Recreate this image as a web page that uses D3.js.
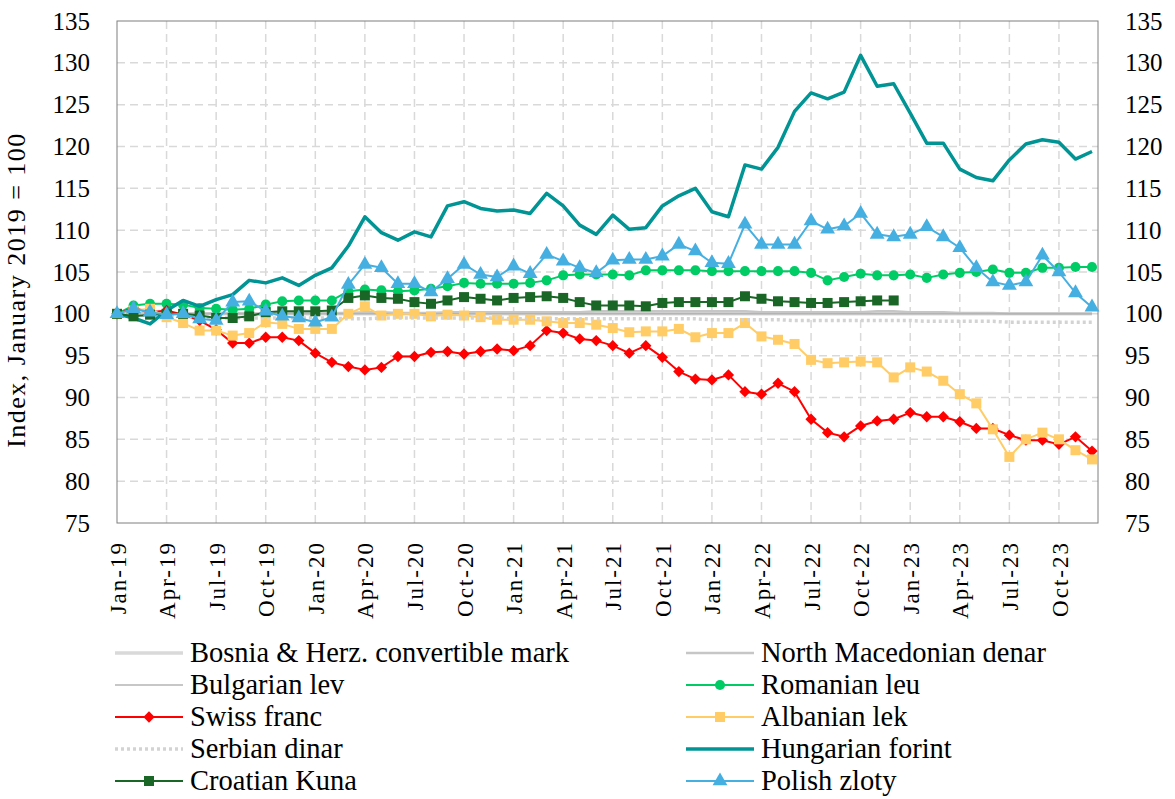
<!DOCTYPE html>
<html>
<head>
<meta charset="utf-8">
<script src="https://cdn.jsdelivr.net/npm/d3@7"></script>
<style>
   body { margin: 0; background: #fff; }
   text { font-family: "Liberation Serif", "DejaVu Serif", serif; fill: #000; }
</style>
</head>
<body>
<div class="chart"></div>
<script>

// months Jan-19 .. Dec-23
const months = ['Jan-19','Feb-19','Mar-19','Apr-19','May-19','Jun-19','Jul-19','Aug-19','Sep-19','Oct-19','Nov-19','Dec-19',
   'Jan-20','Feb-20','Mar-20','Apr-20','May-20','Jun-20','Jul-20','Aug-20','Sep-20','Oct-20','Nov-20','Dec-20',
   'Jan-21','Feb-21','Mar-21','Apr-21','May-21','Jun-21','Jul-21','Aug-21','Sep-21','Oct-21','Nov-21','Dec-21',
   'Jan-22','Feb-22','Mar-22','Apr-22','May-22','Jun-22','Jul-22','Aug-22','Sep-22','Oct-22','Nov-22','Dec-22',
   'Jan-23','Feb-23','Mar-23','Apr-23','May-23','Jun-23','Jul-23','Aug-23','Sep-23','Oct-23','Nov-23','Dec-23'];

const yTicks = [75, 80, 85, 90, 95, 100, 105, 110, 115, 120, 125, 130, 135];

const bosnia = [100,100,100,100,100,100,100,100,100,100,100,100,
   100,100,100,100,100,100,100,100,100,100,100,100,
   100,100,100,100,100,100,100,100,100,100,100,100,
   100,100,100,100,100,100,100,100,100,100,100,100,
   100,100,100,100,100,100,100,100,100,100,100,100];

const macedonia = [100,100.1,100.1,100,100,100,100.1,100.1,100,100,100.1,100.1,
   100.1,100.1,100.1,100.2,100.2,100.1,100.1,100.1,100.2,100.2,100.2,100.2,
   100.2,100.2,100.2,100.2,100.2,100.3,100.3,100.3,100.3,100.3,100.3,100.3,
   100.3,100.3,100.3,100.2,100.2,100.2,100.2,100.2,100.2,100.2,100.3,100.3,
   100.2,100.2,100.2,100.1,100.1,100.1,100,100,100,100,100,100];

const bulgaria = [100,100,100,100,100,100,100,100,100,100,100,100,
   100,100,100,100,100,100,100,100,100,100,100,100,
   100,100,100,100,100,100,100,100,100,100,100,100,
   100,100,100,100,100,100,100,100,100,100,100,100,
   100,100,100,100,100,100,100,100,100,100,100,100];

const romania = [100,101.0,101.2,101.2,101.1,100.7,100.6,100.5,100.6,101.1,101.5,101.6,
   101.6,101.6,102.7,102.9,102.8,102.7,102.8,103.0,103.3,103.7,103.6,103.6,
   103.6,103.7,104.0,104.6,104.7,104.7,104.7,104.6,105.2,105.2,105.2,105.2,
   105.1,105.1,105.1,105.1,105.1,105.1,104.9,104.0,104.4,104.8,104.6,104.6,
   104.7,104.3,104.7,104.9,105.0,105.3,104.9,104.9,105.5,105.5,105.6,105.6];

const swiss = [100,100.7,100.2,100.4,99.9,99.2,98.1,96.5,96.5,97.2,97.2,96.8,
   95.3,94.2,93.7,93.3,93.6,94.9,94.9,95.4,95.5,95.2,95.5,95.8,
   95.6,96.2,98.0,97.7,97.0,96.8,96.2,95.3,96.2,94.8,93.1,92.2,
   92.1,92.7,90.7,90.4,91.7,90.7,87.4,85.8,85.3,86.6,87.2,87.4,
   88.2,87.7,87.7,87.1,86.3,86.3,85.5,84.9,84.9,84.4,85.3,83.6];

const albania = [100,100.4,100.6,99.6,98.9,98.0,98.0,97.4,97.7,99.0,98.8,98.2,
   98.2,98.2,100.0,100.9,99.8,100.0,100.0,99.7,99.9,99.8,99.6,99.3,
   99.3,99.3,99.1,98.9,98.9,98.7,98.3,97.8,97.9,97.9,98.2,97.2,
   97.7,97.7,98.9,97.3,96.9,96.4,94.5,94.1,94.2,94.3,94.2,92.4,
   93.6,93.1,92.0,90.4,89.3,86.2,82.9,85.0,85.8,85.0,83.7,82.6];

const serbia = [100,99.9,99.8,99.8,99.7,99.6,99.5,99.5,99.5,99.5,99.5,99.5,
   99.5,99.5,99.4,99.4,99.5,99.5,99.5,99.5,99.5,99.5,99.5,99.5,
   99.4,99.4,99.4,99.4,99.4,99.4,99.4,99.4,99.4,99.4,99.4,99.4,
   99.3,99.3,99.3,99.3,99.3,99.2,99.2,99.2,99.2,99.2,99.2,99.2,
   99.2,99.1,99.1,99.1,99.1,99.1,99.0,99.0,99.0,99.0,99.0,99.0];

const hungary = [100,99.5,98.8,100.4,101.6,100.9,101.7,102.3,104.0,103.7,104.3,103.4,
   104.6,105.5,108.1,111.6,109.7,108.8,109.8,109.2,112.9,113.4,112.6,112.3,
   112.4,112.0,114.4,112.9,110.6,109.5,111.8,110.1,110.3,112.9,114.1,115.0,
   112.2,111.6,117.8,117.3,119.9,124.2,126.4,125.7,126.5,130.9,127.2,127.5,
   124.0,120.4,120.4,117.3,116.3,115.9,118.4,120.3,120.8,120.5,118.5,119.4];

// kuna stops at Dec-22
const croatia = [100,99.7,99.9,100.0,100.0,99.8,99.5,99.5,99.7,100.2,100.3,100.3,
   100.3,100.4,101.9,102.2,101.9,101.8,101.4,101.2,101.6,102.0,101.8,101.6,
   101.9,102.0,102.1,101.9,101.4,101.0,101.0,101.0,100.9,101.3,101.4,101.4,
   101.4,101.4,102.1,101.8,101.5,101.4,101.3,101.3,101.4,101.5,101.6,101.6];

const poland = [100,100.6,100.2,99.9,100.0,99.4,99.2,101.4,101.5,100.3,99.7,99.5,
   99.0,99.6,103.5,105.9,105.5,103.6,103.6,102.6,104.2,105.9,104.7,104.4,
   105.7,104.8,107.1,106.3,105.5,104.9,106.4,106.5,106.5,106.9,108.3,107.5,
   106.1,106.0,110.7,108.3,108.3,108.3,111.1,110.1,110.5,112.0,109.5,109.2,
   109.5,110.4,109.2,107.9,105.5,103.8,103.4,103.8,107.0,105.0,102.5,100.8];

const series = [
   {name: 'Bosnia & Herz. convertible mark', values: bosnia, color: '#D9D9D9', w: 3.5},
   {name: 'North Macedonian denar', values: macedonia, color: '#C6C6C6', w: 2.5},
   {name: 'Bulgarian lev', values: bulgaria, color: '#B4B4B4', w: 1.5},
   {name: 'Romanian leu', values: romania, color: '#00CC66', w: 2, marker: 'circle'},
   {name: 'Swiss franc', values: swiss, color: '#FF0000', w: 2, marker: 'diamond'},
   {name: 'Albanian lek', values: albania, color: '#FFCC66', w: 2, marker: 'square'},
   {name: 'Serbian dinar', values: serbia, color: '#D3D3D3', w: 3.5, dash: '3,3'},
   {name: 'Hungarian forint', values: hungary, color: '#009494', w: 3.5},
   {name: 'Croatian Kuna', values: croatia, color: '#1A6626', w: 2, marker: 'square'},
   {name: 'Polish zloty', values: poland, color: '#46AFE1', w: 2, marker: 'triangle'}
];

const width = 1175;
const height = 799;
const plot = {left: 117, right: 1098, top: 21, bottom: 523};

const svg = d3.select('.chart')
   .append('svg')
   .attr('width', width)
   .attr('height', height);

const xScale = d3.scaleLinear()
   .domain([0, months.length - 1])
   .range([plot.left, 1092]);

const yScale = d3.scaleLinear()
   .domain([75, 135])
   .range([plot.bottom, plot.top]);

// grid
const quarterIdx = months.map((m, i) => i).filter(i => i % 3 === 0);

svg.append('g').selectAll('line')
   .data(quarterIdx.filter(i => i > 0))
   .enter().append('line')
      .attr('x1', d => xScale(d)).attr('x2', d => xScale(d))
      .attr('y1', plot.top).attr('y2', plot.bottom)
      .attr('stroke', '#D9D9D9').attr('stroke-width', 1.5)
      .attr('stroke-dasharray', '8,5');

svg.append('g').selectAll('line')
   .data(yTicks.filter(t => t > 75 && t < 135))
   .enter().append('line')
      .attr('x1', plot.left).attr('x2', plot.right)
      .attr('y1', d => yScale(d)).attr('y2', d => yScale(d))
      .attr('stroke', '#D9D9D9').attr('stroke-width', 1.5)
      .attr('stroke-dasharray', '8,5');

svg.append('rect')
   .attr('x', plot.left).attr('y', plot.top)
   .attr('width', plot.right - plot.left).attr('height', plot.bottom - plot.top)
   .attr('fill', 'none').attr('stroke', '#7F7F7F').attr('stroke-width', 1);

// y axes, both sides
const yLeft = d3.axisLeft(yScale).tickValues(yTicks).tickSize(0).tickPadding(27);
const yRight = d3.axisRight(yScale).tickValues(yTicks).tickSize(0).tickPadding(27);

svg.append('g').attr('transform', `translate(${plot.left},0)`).call(yLeft)
   .call(g => g.select('.domain').remove())
   .selectAll('text').style('font-size', '25px').attr('font-family', null);

svg.append('g').attr('transform', `translate(${plot.right},0)`).call(yRight)
   .call(g => g.select('.domain').remove())
   .selectAll('text').style('font-size', '25px').attr('font-family', null);

// x axis labels, rotated
const xAxis = d3.axisBottom(xScale)
   .tickValues(quarterIdx)
   .tickFormat(i => months[i])
   .tickSize(0);

svg.append('g').attr('transform', `translate(0,${plot.bottom})`).call(xAxis)
   .call(g => g.select('.domain').remove())
   .selectAll('text')
      .attr('font-family', null)
      .style('font-size', '23px')
      .style('letter-spacing', '2px')
      .attr('text-anchor', 'end')
      .attr('dy', '0.35em')
      .attr('transform', 'translate(0,18) rotate(-90)')
      .attr('y', 0).attr('x', 0);

svg.append('text')
   .attr('transform', `translate(25,${(plot.top + plot.bottom) / 2 + 18}) rotate(-90)`)
   .attr('text-anchor', 'middle')
   .style('font-size', '26px')
   .style('letter-spacing', '1.5px')
   .text('Index, January 2019 = 100');

// symbols
const symbolFor = {
   circle: d3.symbol().type(d3.symbolCircle).size(80),
   square: d3.symbol().type(d3.symbolSquare).size(100),
   diamond: d3.symbol().type(d3.symbolSquare).size(64),
   triangle: d3.symbol().type(d3.symbolTriangle).size(95)
};

function drawMarker(sel, s, x, y) {
   sel.append('path')
      .attr('d', symbolFor[s.marker]())
      .attr('transform', `translate(${x},${y})` + (s.marker === 'diamond' ? ' rotate(45)' : ''))
      .attr('fill', s.color);
}

const line = d3.line()
   .x((d, i) => xScale(i))
   .y(d => yScale(d));

series.forEach(s => {
   const g = svg.append('g');
   g.append('path')
      .datum(s.values)
      .attr('d', line)
      .attr('fill', 'none')
      .attr('stroke', s.color)
      .attr('stroke-width', s.w)
      .attr('stroke-dasharray', s.dash || null)
      .attr('stroke-linejoin', 'round');
   if (s.marker) {
      s.values.forEach((v, i) => drawMarker(g, s, xScale(i), yScale(v)));
   }
});

// legend, two columns
const legendOrder = ['Bosnia & Herz. convertible mark', 'North Macedonian denar',
   'Bulgarian lev', 'Romanian leu', 'Swiss franc', 'Albanian lek',
   'Serbian dinar', 'Hungarian forint', 'Croatian Kuna', 'Polish zloty'];

legendOrder.forEach((name, k) => {
   const s = series.find(d => d.name === name);
   const col = k % 2;
   const row = Math.floor(k / 2);
   const x0 = col === 0 ? 115 : 686;
   const cy = 653 + row * 32;
   const g = svg.append('g');
   g.append('line')
      .attr('x1', x0).attr('x2', x0 + 68)
      .attr('y1', cy).attr('y2', cy)
      .attr('stroke', s.color)
      .attr('stroke-width', s.w)
      .attr('stroke-dasharray', s.dash || null);
   if (s.marker) drawMarker(g, s, x0 + 34, cy);
   g.append('text')
      .attr('x', x0 + 75).attr('y', cy)
      .attr('dy', '0.3em')
      .style('font-size', '28.5px')
      .text(name);
});

</script>
</body>
</html>
